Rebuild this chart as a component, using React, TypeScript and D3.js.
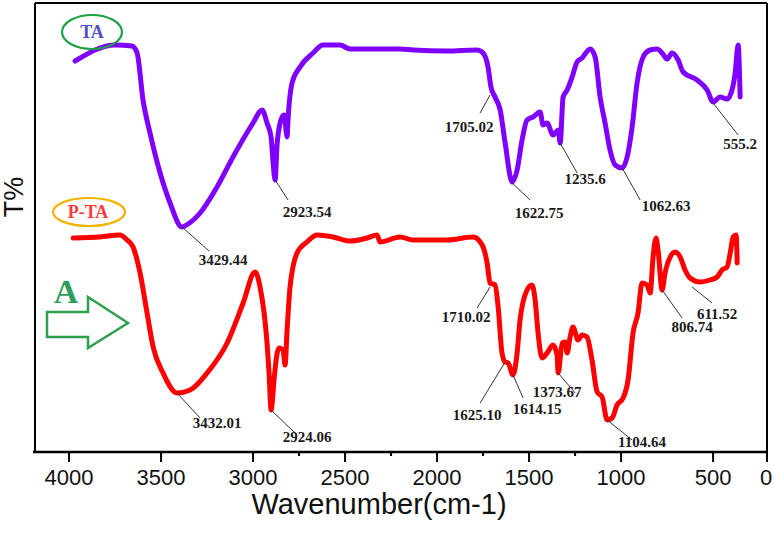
import React from "react";
import * as d3 from "d3";

// ---- Data ----
const taWavenumber = [3967,3750,3658,3630,3598,3560,3505,3451,3386,3353,3288,3196,3109,3000,2951,2924,2902,2891,2880,2869,2842,2831,2815,2810,2788,2745,2674,2620,2527,2473,2201,2130,1946,1783,1750,1723,1707,1685,1657,1630,1592,1565,1538,1511,1478,1440,1424,1402,1370,1342,1331,1315,1293,1266,1239,1212,1168,1141,1114,1087,1060,1032,994,967,940,913,880,842,804,777,750,723,690,663,587,532,500,462,424,397,380,364,353];
const taT = [78.2,81.4,81.2,79.8,70.4,63.8,55.8,49.8,45.0,45.6,47.8,53.0,59.0,65.8,68.4,65.8,63.0,57.8,54.4,61.8,67.0,67.4,63.0,66.4,73.8,77.0,79.8,81.4,81.4,80.6,80.6,80.4,80.2,80.4,79.8,77.0,73.0,71.0,68.4,61.8,54.0,56.4,62.4,66.4,67.0,68.0,65.4,65.8,63.4,64.4,61.8,71.0,72.4,75.0,78.0,78.8,80.6,79.0,71.0,65.8,60.4,57.4,56.8,59.0,65.0,73.8,79.0,80.4,80.6,79.8,78.6,79.8,78.4,76.0,74.4,72.4,70.0,71.0,70.6,72.4,75.8,81.4,71.0];

const ptaWavenumber = [3978,3832,3723,3685,3652,3614,3576,3543,3489,3413,3342,3250,3141,3054,2989,2962,2924,2913,2902,2886,2869,2858,2837,2826,2815,2799,2761,2707,2652,2565,2473,2380,2326,2310,2201,2130,1946,1804,1755,1728,1712,1685,1668,1647,1630,1614,1587,1565,1549,1511,1484,1467,1451,1430,1402,1370,1348,1342,1320,1304,1293,1277,1261,1234,1212,1185,1158,1130,1103,1076,1049,1022,989,962,935,908,886,859,842,826,810,799,777,761,733,706,679,652,625,570,516,478,451,424,407,391,375,369];
const ptaT = [42.8,43.0,43.4,42.4,41.0,35.8,27.8,21.0,15.8,11.8,12.4,15.8,21.8,29.8,36.0,33.0,21.8,15.8,8.4,14.4,19.8,20.8,20.4,17.4,24.4,33.0,39.8,42.0,43.4,43.0,42.2,42.8,43.4,42.0,43.0,42.4,42.4,43.0,41.4,37.8,33.8,33.4,29.0,19.8,18.0,17.8,15.4,19.8,26.4,32.4,33.4,30.4,23.8,18.8,19.8,21.4,19.4,15.8,21.8,22.0,19.8,23.0,25.0,22.4,23.4,23.0,18.4,12.0,11.0,6.4,6.8,9.4,10.8,14.4,23.8,27.8,33.8,33.4,31.8,39.0,42.8,40.4,32.4,35.8,39.0,40.0,39.0,36.4,34.8,34.0,34.4,35.0,36.4,37.0,39.8,43.0,43.4,37.8];

const taPeakLabels = ["3429.44","2923.54","1705.02","1622.75","1235.6","1062.63","555.2"];
const taPeakWavenumber = [3386,2880,1712,1592,1331,994,500];
const taPeakT = [45.0,54.4,71.4,53.8,61.8,56.8,69.8];

const ptaPeakLabels = ["3432.01","2924.06","1710.02","1625.10","1614.15","1373.67","1104.64","806.74","611.52"];
const ptaPeakWavenumber = [3413,2902,1712,1630,1587,1342,1076,777,614];
const ptaPeakT = [11.8,8.4,33.0,18.0,15.4,15.8,6.4,32.4,33.0];

const xTickValues = [4000,3500,3000,2500,2000,1500,1000,500];
const xMinorTickValues = [2750,2250,1750,1250];
const endTickLabel = "0";

// ---- Layout (label offsets in px, relative to anchor) ----
const taLabelLayout = [
  { lx: 27, ly: 24, tx: 41, ty: 38 },
  { lx: 13, ly: 20, tx: 32, ty: 37 },
  { lx: -10, ly: 18, tx: -21, ty: 37 },
  { lx: 18, ly: 17, tx: 27, ty: 35 },
  { lx: 17, ly: 30, tx: 25, ty: 41 },
  { lx: 18, ly: 32, tx: 44, ty: 43 },
  { lx: 25, ly: 32, tx: 27, ty: 46 },
];
const ptaLabelLayout = [
  { lx: 23, ly: 25, tx: 40, ty: 35 },
  { lx: 26, ly: 25, tx: 36, ty: 32 },
  { lx: -13, ly: 21, tx: -24, ty: 35 },
  { lx: -25, ly: 41, tx: -28, ty: 58 },
  { lx: 10, ly: 23, tx: 24, ty: 39 },
  { lx: 17, ly: 20, tx: -1, ty: 24 },
  { lx: 25, ly: 20, tx: 35, ty: 27 },
  { lx: 20, ly: 28, tx: 30, ty: 42 },
  { lx: 20, ly: 16, tx: 25, ty: 32 },
];

const W = 774, H = 534;
const left = 35, right = 767, top = 3, bottom = 452;

export default function App() {
  const x = d3.scaleLinear().domain([4185, 207]).range([left, right]);
  const y = d3.scaleLinear().domain([0, 90]).range([bottom, 2]);
  const line = d3.line<[number, number]>().x(d => x(d[0])).y(d => y(d[1])).curve(d3.curveMonotoneX);
  const taPts = taWavenumber.map((w, i) => [w, taT[i]] as [number, number]);
  const ptaPts = ptaWavenumber.map((w, i) => [w, ptaT[i]] as [number, number]);

  const renderLabels = (labels: string[], wn: number[], tv: number[], layout: any[], key: string) =>
    labels.map((lab, i) => {
      const ax = x(wn[i]), ay = y(tv[i]);
      const L = layout[i];
      return (
        <g key={key + i}>
          <line x1={ax} y1={ay} x2={ax + L.lx} y2={ay + L.ly} stroke="#333" strokeWidth={1} />
          <text x={ax + L.tx} y={ay + L.ty} textAnchor="middle" fontFamily="'Liberation Serif', 'Times New Roman', serif" fontWeight="bold" fontSize={15} fill="#1a1a1a">{lab}</text>
        </g>
      );
    });

  return (
    <svg width={W} height={H} style={{ position: "absolute", left: 0, top: 0, background: "#fff" }}>
      <rect x={0} y={0} width={W} height={H} fill="#fff" />
      {/* curves */}
      <path d={line(taPts) || ""} fill="none" stroke="#8000ff" strokeWidth={5} strokeLinejoin="round" strokeLinecap="round" />
      <path d={line(ptaPts) || ""} fill="none" stroke="#ff0000" strokeWidth={5} strokeLinejoin="round" strokeLinecap="round" />

      {/* frame */}
      <line x1={left} y1={top} x2={right} y2={top} stroke="#000" strokeWidth={2} />
      <line x1={left} y1={top} x2={left} y2={bottom} stroke="#000" strokeWidth={2} />
      <line x1={right} y1={top} x2={right} y2={bottom} stroke="#000" strokeWidth={2} />
      <line x1={left - 2} y1={bottom} x2={right + 1} y2={bottom} stroke="#000" strokeWidth={2.5} />

      {/* ticks */}
      {xTickValues.map(v => (
        <g key={"t" + v}>
          <line x1={x(v)} y1={bottom} x2={x(v)} y2={bottom + 10} stroke="#000" strokeWidth={2} />
          <text x={x(v)} y={485} textAnchor="middle" fontFamily="'Liberation Sans', Arial, sans-serif" fontSize={22} fill="#111">{v}</text>
        </g>
      ))}
      {xMinorTickValues.map(v => (
        <line key={"m" + v} x1={x(v)} y1={bottom} x2={x(v)} y2={bottom + 4} stroke="#000" strokeWidth={2} />
      ))}
      <line x1={right} y1={bottom} x2={right} y2={bottom + 10} stroke="#000" strokeWidth={2} />
      <text x={766} y={485} textAnchor="middle" fontFamily="'Liberation Sans', Arial, sans-serif" fontSize={22} fill="#111">{endTickLabel}</text>

      {/* axis titles */}
      <text x={379} y={514} textAnchor="middle" fontFamily="'Liberation Sans', Arial, sans-serif" fontSize={29} fill="#111">Wavenumber(cm-1)</text>
      <text transform="translate(23,197) rotate(-90)" textAnchor="middle" fontFamily="'Liberation Sans', Arial, sans-serif" fontSize={27} fill="#111">T%</text>

      {/* series tags */}
      <ellipse cx={92} cy={32} rx={30} ry={17} fill="none" stroke="#1fa045" strokeWidth={2.2} />
      <text x={92} y={38} textAnchor="middle" fontFamily="'Liberation Serif', 'Times New Roman', serif" fontWeight="bold" fontSize={18} fill="#5050c8">TA</text>
      <ellipse cx={89} cy={212} rx={36} ry={14} fill="none" stroke="#f2b400" strokeWidth={2.2} />
      <text x={88} y={218} textAnchor="middle" fontFamily="'Liberation Serif', 'Times New Roman', serif" fontWeight="bold" fontSize={18} fill="#ff3a3a">P-TA</text>

      {/* A arrow */}
      <text x={66} y={303} textAnchor="middle" fontFamily="'Liberation Serif', 'Times New Roman', serif" fontWeight="bold" fontSize={34} fill="#2e9e5a">A</text>
      <polygon points="47,312 88,312 88,297 128,323 88,348 88,337 47,337" fill="none" stroke="#2ea04f" strokeWidth={2.5} strokeLinejoin="miter" />

      {/* peak labels */}
      {renderLabels(taPeakLabels, taPeakWavenumber, taPeakT, taLabelLayout, "ta")}
      {renderLabels(ptaPeakLabels, ptaPeakWavenumber, ptaPeakT, ptaLabelLayout, "pta")}
    </svg>
  );
}
